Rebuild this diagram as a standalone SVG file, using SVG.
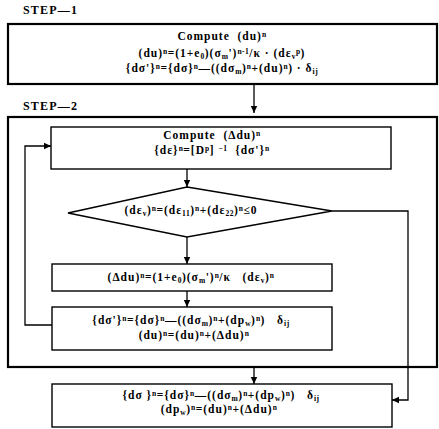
<svg xmlns="http://www.w3.org/2000/svg" width="439" height="429" viewBox="0 0 439 429">
<style>
text{font-family:"Liberation Serif","DejaVu Serif",serif;font-weight:bold;font-size:11.5px;letter-spacing:1px;fill:#000}
.c{text-anchor:middle}
.lbl{font-size:12px;letter-spacing:1.2px}
.sup{font-size:7.5px;letter-spacing:0.5px;baseline-shift:3.5px}
.sub{font-size:7.5px;letter-spacing:0.5px;baseline-shift:-2px}
.outer{fill:#fff;stroke:#000;stroke-width:2.2}
.box{fill:#fff;stroke:#000;stroke-width:1.4}
.ln{fill:none;stroke:#000;stroke-width:1.3}
</style>
<defs>
<marker id="ah" markerWidth="8" markerHeight="8" refX="7" refY="4" orient="auto" markerUnits="userSpaceOnUse">
<path d="M0,0.8 L7,4 L0,7.2 Z" fill="#000"/>
</marker>
</defs>
<g id="labels">
<text class="lbl" x="23" y="14">STEP—1</text>
<text class="lbl" x="23" y="110">STEP—2</text>
<text x="345" y="208">YES</text>
<text x="197" y="252">NO</text>
</g>
<g id="step1">
<rect class="outer" x="8" y="24" width="429" height="60"/>
<text class="c" x="222" y="40" xml:space="preserve">Compute  (du)<tspan class="sup">n</tspan></text>
<text class="c" x="222" y="56.5" xml:space="preserve">(du)<tspan class="sup">n</tspan>=(1+e<tspan class="sub">0</tspan>)(σ<tspan class="sub">m</tspan>')<tspan class="sup">n-1</tspan>/κ · (dε<tspan class="sub">v</tspan><tspan class="sup">p</tspan>)</text>
<text class="c" x="222" y="71.5" xml:space="preserve">{dσ'}<tspan class="sup">n</tspan>={dσ}<tspan class="sup">n</tspan>—((dσ<tspan class="sub">m</tspan>)<tspan class="sup">n</tspan>+(du)<tspan class="sup">n</tspan>) · δ<tspan class="sub">ij</tspan></text>
</g>
<g id="step2">
<rect class="outer" x="8" y="117" width="429" height="250"/>
</g>
<g id="compute-ddu">
<rect class="box" x="51" y="127" width="340" height="42"/>
<text class="c" x="212" y="139" xml:space="preserve">Compute  (Δdu)<tspan class="sup">n</tspan></text>
<text class="c" x="212" y="154" xml:space="preserve">{dε}<tspan class="sup">n</tspan>=[D<tspan class="sup">p</tspan>] <tspan class="sup">−1</tspan>  {dσ'}<tspan class="sup">n</tspan></text>
</g>
<g id="decision">
<polygon class="box" points="187,187 332,211 187,237 68,213"/>
<text class="c" x="191" y="214" xml:space="preserve">(dε<tspan class="sub">v</tspan>)<tspan class="sup">n</tspan>=(dε<tspan class="sub">11</tspan>)<tspan class="sup">n</tspan>+(dε<tspan class="sub">22</tspan>)<tspan class="sup">n</tspan>≤0</text>
</g>
<g id="ddu">
<rect class="box" x="52" y="264" width="280" height="27"/>
<text class="c" x="191" y="281" xml:space="preserve">(Δdu)<tspan class="sup">n</tspan>=(1+e<tspan class="sub">0</tspan>)(σ<tspan class="sub">m</tspan>')<tspan class="sup">n</tspan>/κ   (dε<tspan class="sub">v</tspan>)<tspan class="sup">n</tspan></text>
</g>
<g id="update">
<rect class="box" x="52" y="307" width="280" height="43"/>
<text class="c" x="191" y="324" xml:space="preserve">{dσ'}<tspan class="sup">n</tspan>={dσ}<tspan class="sup">n</tspan>—((dσ<tspan class="sub">m</tspan>)<tspan class="sup">n</tspan>+(dp<tspan class="sub">w</tspan>)<tspan class="sup">n</tspan>)   δ<tspan class="sub">ij</tspan></text>
<text class="c" x="194" y="339" xml:space="preserve">(du)<tspan class="sup">n</tspan>=(du)<tspan class="sup">n</tspan>+(Δdu)<tspan class="sup">n</tspan></text>
</g>
<g id="final">
<rect class="box" x="52" y="384" width="340" height="43"/>
<text class="c" x="221" y="399" xml:space="preserve">{dσ }<tspan class="sup">n</tspan>={dσ}<tspan class="sup">n</tspan>—((dσ<tspan class="sub">m</tspan>)<tspan class="sup">n</tspan>+(dp<tspan class="sub">w</tspan>)<tspan class="sup">n</tspan>)   δ<tspan class="sub">ij</tspan></text>
<text class="c" x="219" y="413" xml:space="preserve">(dp<tspan class="sub">w</tspan>)<tspan class="sup">n</tspan>=(du)<tspan class="sup">n</tspan>+(Δdu)<tspan class="sup">n</tspan></text>
</g>
<g id="connectors">
<line class="ln" x1="254" y1="85" x2="254" y2="113" marker-end="url(#ah)"/>
<line class="ln" x1="187" y1="169" x2="187" y2="187" marker-end="url(#ah)"/>
<line class="ln" x1="187" y1="237" x2="187" y2="264" marker-end="url(#ah)"/>
<line class="ln" x1="187" y1="291" x2="187" y2="307" marker-end="url(#ah)"/>
<polyline class="ln" points="52,325 25,325 25,146 51,146" marker-end="url(#ah)"/>
<polyline class="ln" points="332,211 408,211 408,400 392,400" marker-end="url(#ah)"/>
<line class="ln" x1="254" y1="368" x2="254" y2="384" marker-end="url(#ah)"/>
</g>
</svg>
